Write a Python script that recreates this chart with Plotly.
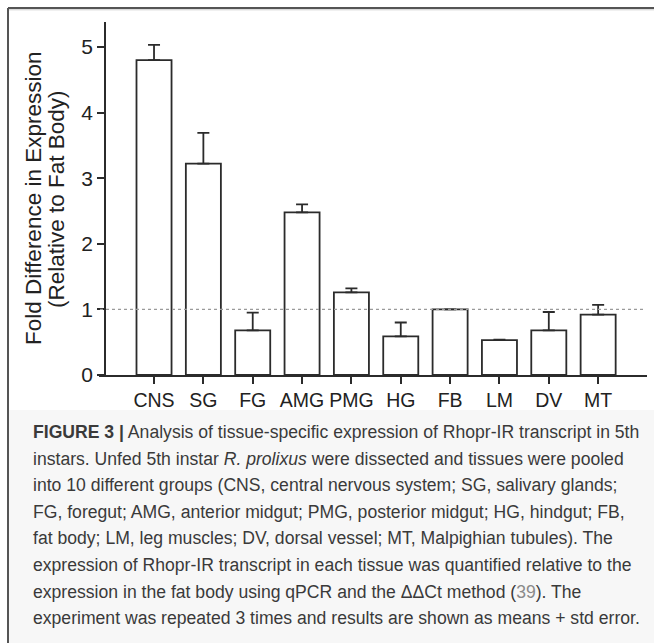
import plotly.graph_objects as go

# ---- data ----
tissues = ["CNS", "SG", "FG", "AMG", "PMG", "HG", "FB", "LM", "DV", "MT"]
fold_change = [4.80, 3.22, 0.68, 2.48, 1.26, 0.59, 1.00, 0.53, 0.68, 0.92]
std_error = [0.23, 0.47, 0.27, 0.12, 0.06, 0.21, 0.0, 0.01, 0.28, 0.15]
y_ticks = [0, 1, 2, 3, 4, 5]
reference_level = 1.0

caption_lines = [
    "<b>FIGURE 3 |</b> Analysis of tissue-specific expression of Rhopr-IR transcript in 5th",
    "instars. Unfed 5th instar <i>R. prolixus</i> were dissected and tissues were pooled",
    "into 10 different groups (CNS, central nervous system; SG, salivary glands;",
    "FG, foregut; AMG, anterior midgut; PMG, posterior midgut; HG, hindgut; FB,",
    "fat body; LM, leg muscles; DV, dorsal vessel; MT, Malpighian tubules). The",
    "expression of Rhopr-IR transcript in each tissue was quantified relative to the",
    "expression in the fat body using qPCR and the \u0394\u0394Ct method (<span style='color:#8a8a8a'>39</span>). The",
    "experiment was repeated 3 times and results are shown as means + std error.",
]

# ---- layout geometry (pixels) ----
W, H = 654, 643
ML, MR, MT, MB = 99, 7, 22, 268
PW = W - ML - MR
PH = H - MT - MB


def px(x):
    return (x - ML) / PW


def py(y):
    return (H - MB - y) / PH


FONT = "Liberation Sans, Arial, Helvetica, sans-serif"
INK = "#2b2b2b"

x_idx = list(range(len(tissues)))
x_range = [-1.115, 9.99]
yaxis_pos = (-0.993 - x_range[0]) / (x_range[1] - x_range[0])

fig = go.Figure()
fig.add_trace(go.Bar(
    x=x_idx,
    y=fold_change,
    width=0.71,
    marker=dict(color="white", line=dict(color=INK, width=1.8)),
    error_y=dict(type="data", symmetric=False, array=std_error,
                 arrayminus=[0] * len(std_error),
                 color=INK, thickness=1.8, width=6),
    showlegend=False,
))

shapes = [
    # caption background
    dict(type="rect", xref="paper", yref="paper",
         x0=px(9), x1=px(W + 2), y0=py(410), y1=py(H + 2),
         fillcolor="#f7f7f7", line=dict(width=0), layer="below"),
    # frame lines
    dict(type="line", xref="paper", yref="paper",
         x0=px(8), x1=px(W + 2), y0=py(8), y1=py(8),
         line=dict(color="#555555", width=2)),
    dict(type="line", xref="paper", yref="paper",
         x0=px(8), x1=px(W + 2), y0=py(9.8), y1=py(9.8),
         line=dict(color="#cccccc", width=1)),
    dict(type="line", xref="paper", yref="paper",
         x0=px(8), x1=px(8), y0=py(8), y1=py(H + 2),
         line=dict(color="#555555", width=2)),
    # reference dotted line at 1
    dict(type="line", xref="paper", yref="y",
         x0=px(100), x1=px(644), y0=reference_level, y1=reference_level,
         line=dict(color="#9a9a9a", width=1.3, dash="dot"), layer="above"),
]

annotations = [
    dict(text="Fold Difference in Expression", textangle=-90,
         xref="paper", yref="paper", x=px(33), y=py(199),
         xanchor="center", yanchor="middle", showarrow=False,
         font=dict(family=FONT, size=22.5, color="#222222")),
    dict(text="(Relative to Fat Body)", textangle=-90,
         xref="paper", yref="paper", x=px(56), y=py(199),
         xanchor="center", yanchor="middle", showarrow=False,
         font=dict(family=FONT, size=22.5, color="#222222")),
]

line0, step = 432, 26.6
for i, t in enumerate(caption_lines):
    annotations.append(dict(
        text=t, xref="paper", yref="paper",
        x=px(31), y=py(line0 + i * step),
        xanchor="left", yanchor="middle", showarrow=False,
        font=dict(family=FONT, size=17.6, color="#3a3a3a")))

fig.update_layout(
    width=W, height=H,
    margin=dict(l=ML, r=MR, t=MT, b=MB, autoexpand=False),
    paper_bgcolor="white", plot_bgcolor="white",
    font=dict(family=FONT, color="#222222"),
    shapes=shapes,
    annotations=annotations,
    xaxis=dict(
        range=x_range, tickmode="array", tickvals=x_idx, ticktext=tissues,
        showgrid=False, zeroline=False, showline=True, linecolor=INK,
        linewidth=1.8, ticks="outside", ticklen=7, tickwidth=1.8,
        tickcolor=INK, tickfont=dict(family=FONT, size=19.5, color="#222222"),
        fixedrange=True,
    ),
    yaxis=dict(
        range=[0, 5.38], tickmode="array", tickvals=y_ticks,
        anchor="free", position=yaxis_pos,
        showgrid=False, zeroline=False, showline=True, linecolor=INK,
        linewidth=1.8, ticks="outside", ticklen=7, tickwidth=1.8,
        tickcolor=INK, tickfont=dict(family=FONT, size=21, color="#222222"),
        fixedrange=True,
    ),
)

fig.write_html("out.html")
